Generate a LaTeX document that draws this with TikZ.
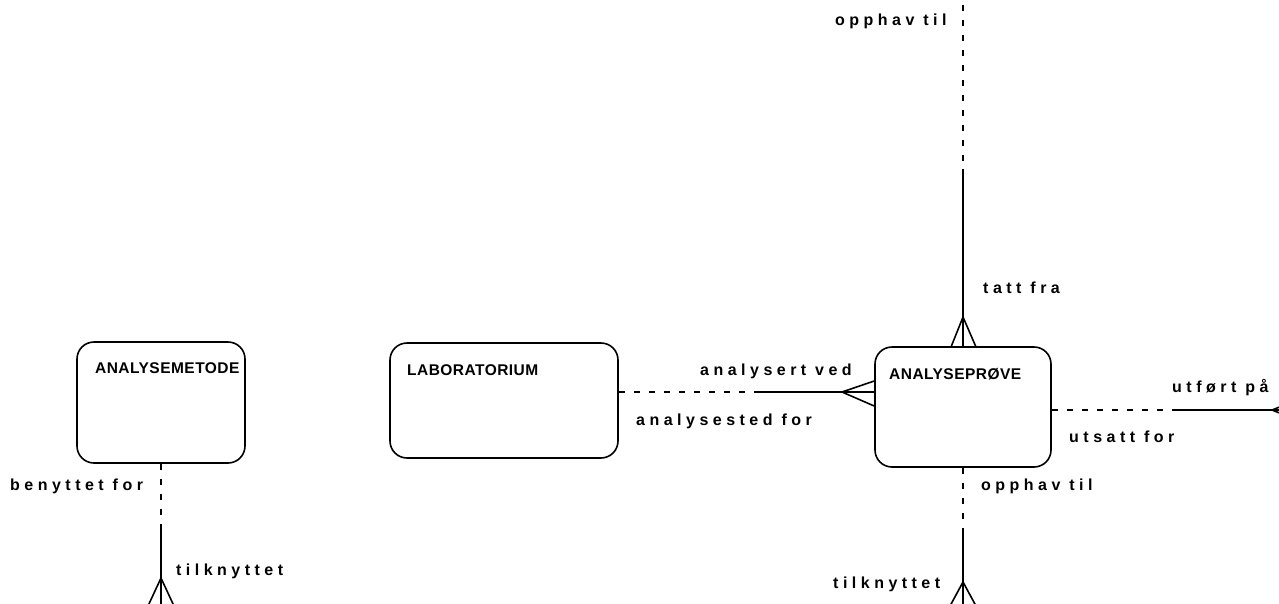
\documentclass[tikz,border=0pt]{standalone}
\usepackage{fontspec}
\newfontfamily\lblfont[LetterSpace=28,UprightFont={* Bold}]{Liberation Sans}
\newfontfamily\boxfont[LetterSpace=3,UprightFont={* Bold}]{Liberation Sans}
\usetikzlibrary{calc}
\begin{document}
\begin{tikzpicture}[x=1pt,y=-1pt,
  ent/.style={draw,line width=1.6pt,rounded corners=17pt,inner sep=0pt},
  rel/.style={line width=1.6pt},
  opt/.style={line width=1.6pt,dash pattern=on 6pt off 9pt},
  lbl/.style={anchor=base west,inner sep=0pt,font=\lblfont\fontsize{16}{19}\selectfont},
  ttl/.style={anchor=base west,inner sep=0pt,font=\boxfont\fontsize{15.5}{18}\selectfont}]
\useasboundingbox (0,0) rectangle (1279,603);
\clip (0,0) rectangle (1279,603);

% entities
\node[ent,minimum width=168pt,minimum height=121pt] (AM) at (161,402.5) {};
\node[ent,minimum width=228pt,minimum height=115pt] (LAB) at (504,400.5) {};
\node[ent,minimum width=176pt,minimum height=120pt] (AP) at (963,407) {};

\node[ttl] (tAM) at (95,373) {ANALYSEMETODE};
\node[ttl] (tLAB) at (407,375) {LABORATORIUM};
\node[ttl] (tAP) at (889,379) {ANALYSEPRØVE};

% coordinates
\coordinate (amMid) at (161,530);
\coordinate (amFoot) at (161,578);
\coordinate (labMid) at (757,392);
\coordinate (labFoot) at (842,392);
\coordinate (topEnd) at (963,5);
\coordinate (topMid) at (963,169);
\coordinate (topFoot) at (963,317);
\coordinate (rMid) at (1177,410);
\coordinate (rEnd) at (1279,410);
\coordinate (rFoot) at (1272,410);
\coordinate (bMid) at (963,530);
\coordinate (bFoot) at (963,582);

% ANALYSEMETODE down
\draw[opt] (AM.south) -- (amMid);
\draw[rel] (amMid) -- (amFoot);
\draw[rel] (amFoot) -- (148,606) (amFoot) -- (161,606) (amFoot) -- (174,606);

% LABORATORIUM -- ANALYSEPROVE
\draw[opt] (LAB.east |- labMid) -- (labMid);
\draw[rel] (labMid) -- (labFoot);
\draw[rel] (labFoot) -- (AP.west |- 0,381) (labFoot) -- (AP.west |- labFoot) (labFoot) -- (AP.west |- 0,406);

% top
\draw[opt] (topEnd) -- (topMid);
\draw[rel] (topMid) -- (topFoot);
\draw[rel] (topFoot) -- (951,347) (topFoot) -- (AP.north) (topFoot) -- (976,347);

% right
\draw[opt] (AP.east |- rEnd) -- (rMid);
\draw[rel] (rMid) -- (rEnd);
\draw[rel] (rFoot) -- (1282,406) (rFoot) -- (1282,414);

% bottom
\draw[opt] (AP.south) -- (bMid);
\draw[rel] (bMid) -- (bFoot);
\draw[rel] (bFoot) -- (950,606) (bFoot) -- (963,606) (bFoot) -- (976,606);

% labels
\node[lbl] (l1) at (835,25) {opphav til};
\node[lbl] (l2) at (983,293) {tatt fra};
\node[lbl] (l3) at (700,375) {analysert ved};
\node[lbl] (l4) at (636,425) {analysested for};
\node[lbl] (l5) at (1172,392) {utført på};
\node[lbl] (l6) at (1069,442) {utsatt for};
\node[lbl] (l7) at (981,490) {opphav til};
\node[lbl] (l8) at (833,588) {tilknyttet};
\node[lbl] (l9) at (10,490) {benyttet for};
\node[lbl] (l10) at (176,575) {tilknyttet};
\end{tikzpicture}
\end{document}
